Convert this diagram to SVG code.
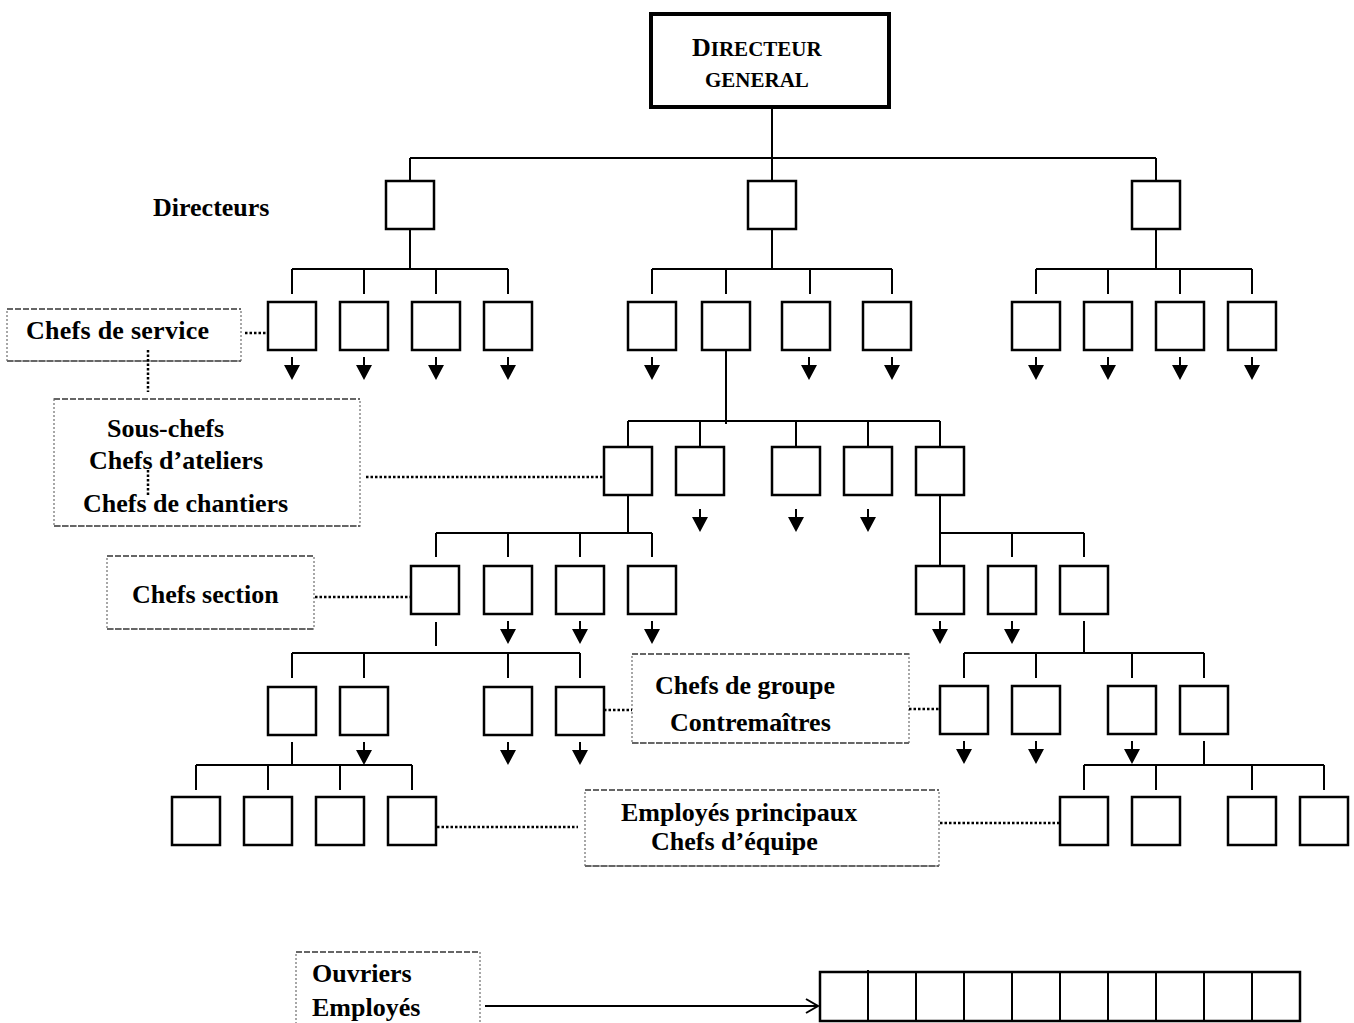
<svg xmlns="http://www.w3.org/2000/svg" xmlns:xlink="http://www.w3.org/1999/xlink" width="1354" height="1023" viewBox="0 0 1354 1023">
<style>
.bx{fill:#fff;stroke:#000;stroke-width:2.5}
.ln{fill:none;stroke:#000;stroke-width:2}
.dot{fill:none;stroke:#000;stroke-width:2.5;stroke-dasharray:2.5 2}
.lbl{fill:none;stroke:#8a8a8a;stroke-width:1.5;stroke-dasharray:2 2}
.lbh{fill:none;stroke:#666;stroke-width:2;stroke-dasharray:6 2}
.t{font-family:"Liberation Serif","Times New Roman",serif;font-weight:bold;font-size:26px;fill:#000}
.sc{font-family:"Liberation Serif","Times New Roman",serif;font-weight:bold;fill:#000}
</style>
<defs>
<g id="arr"><line x1="0" y1="0" x2="0" y2="9" stroke="#000" stroke-width="2"/><polygon points="-8,8 8,8 0,23" fill="#000"/></g>
<marker id="open" markerWidth="16" markerHeight="16" refX="14" refY="8" orient="auto" markerUnits="userSpaceOnUse"><polyline points="2,1 14,8 2,15" fill="none" stroke="#000" stroke-width="2"/></marker>
</defs>
<rect width="1354" height="1023" fill="#fff"/>

<g id="lbl-directeurs"><text class="t" x="153" y="216">Directeurs</text></g>
<g id="lbl-service"><rect class="lbl" x="7" y="309" width="234" height="52"/><path class="lbh" d="M7 309H241M7 361H241"/><text class="t" x="26" y="339" textLength="183">Chefs de service</text></g>
<g id="lbl-souschefs"><rect class="lbl" x="54" y="399" width="306" height="127"/><path class="lbh" d="M54 399H360M54 526H360"/>
<text class="t" x="107" y="437">Sous-chefs</text><text class="t" x="89" y="469">Chefs d’ateliers</text><text class="t" x="83" y="512">Chefs de chantiers</text></g>
<g id="lbl-section"><rect class="lbl" x="107" y="556" width="207" height="73"/><path class="lbh" d="M107 556H314M107 629H314"/><text class="t" x="132" y="603">Chefs section</text></g>
<g id="lbl-groupe"><rect class="lbl" x="632" y="654" width="277" height="89"/><path class="lbh" d="M632 654H909M632 743H909"/><text class="t" x="655" y="694">Chefs de groupe</text><text class="t" x="670" y="731">Contremaîtres</text></g>
<g id="lbl-employes"><rect class="lbl" x="585" y="790" width="354" height="76"/><path class="lbh" d="M585 790H939M585 866H939"/><text class="t" x="621" y="821">Employés principaux</text><text class="t" x="651" y="850">Chefs d’équipe</text></g>
<g id="lbl-ouvriers"><rect class="lbl" x="296" y="952" width="184" height="80"/><path class="lbh" d="M296 952H480"/><text class="t" x="312" y="982">Ouvriers</text><text class="t" x="312" y="1016">Employés</text></g>

<g id="connectors">
<path class="ln" d="M772 108V158M410 158H1156M410 158V181M772 158V181M1156 158V181"/>
<path class="ln" d="M410 229V269M292 269H508M292 269V294M364 269V294M436 269V294M508 269V294"/>
<path class="ln" d="M772 229V269M652 269H892M652 269V294M726 269V294M810 269V294M892 269V294"/>
<path class="ln" d="M1156 229V269M1036 269H1252M1036 269V294M1108 269V294M1180 269V294M1252 269V294"/>
<path class="ln" d="M726 350V424M628 421H940M628 421V446M700 421V446M796 421V446M868 421V446M940 421V446"/>
<path class="ln" d="M628 495V533M436 533H652M436 533V557M508 533V557M580 533V557M652 533V557"/>
<path class="ln" d="M436 622V646M292 653H580M292 653V678M364 653V678M508 653V678M580 653V678"/>
<path class="ln" d="M292 742V765M196 765H412M196 765V790M268 765V790M340 765V790M412 765V790"/>
<path class="ln" d="M940 495V566M940 533H1084M1012 533V557M1084 533V557"/>
<path class="ln" d="M1084 621V653M964 653H1204M964 653V678M1036 653V678M1132 653V678M1204 653V678"/>
<path class="ln" d="M1204 741V765M1084 765H1324M1084 765V790M1156 765V790M1252 765V790M1324 765V790"/>
<use xlink:href="#arr" x="292" y="357"/><use xlink:href="#arr" x="364" y="357"/><use xlink:href="#arr" x="436" y="357"/><use xlink:href="#arr" x="508" y="357"/>
<use xlink:href="#arr" x="652" y="357"/><use xlink:href="#arr" x="809" y="357"/><use xlink:href="#arr" x="892" y="357"/>
<use xlink:href="#arr" x="1036" y="357"/><use xlink:href="#arr" x="1108" y="357"/><use xlink:href="#arr" x="1180" y="357"/><use xlink:href="#arr" x="1252" y="357"/>
<use xlink:href="#arr" x="700" y="509"/><use xlink:href="#arr" x="796" y="509"/><use xlink:href="#arr" x="868" y="509"/>
<use xlink:href="#arr" x="508" y="621"/><use xlink:href="#arr" x="580" y="621"/><use xlink:href="#arr" x="652" y="621"/>
<use xlink:href="#arr" x="940" y="621"/><use xlink:href="#arr" x="1012" y="621"/>
<use xlink:href="#arr" x="364" y="742"/><use xlink:href="#arr" x="508" y="742"/><use xlink:href="#arr" x="580" y="742"/>
<use xlink:href="#arr" x="964" y="741"/><use xlink:href="#arr" x="1036" y="741"/><use xlink:href="#arr" x="1132" y="741"/>
<path class="dot" d="M245 333H268M148 350V392M366 477H604M148 470V495M315 597H411M604 710H632M909 709H940M437 827H578M940 823H1060"/>
<line class="ln" x1="485" y1="1006" x2="818" y2="1006" marker-end="url(#open)"/>
</g>

<g id="dg"><rect x="651" y="14" width="238" height="93" fill="#fff" stroke="#000" stroke-width="4"/>
<text class="sc" x="692" y="56"><tspan font-size="26">D</tspan><tspan font-size="21">IRECTEUR</tspan></text>
<text class="sc" x="705" y="87" font-size="21">GENERAL</text></g>

<g id="dir"><rect class="bx" x="386" y="181" width="48" height="48"/><rect class="bx" x="748" y="181" width="48" height="48"/><rect class="bx" x="1132" y="181" width="48" height="48"/></g>

<g id="service">
<rect class="bx" x="268" y="302" width="48" height="48"/><rect class="bx" x="340" y="302" width="48" height="48"/><rect class="bx" x="412" y="302" width="48" height="48"/><rect class="bx" x="484" y="302" width="48" height="48"/>
<rect class="bx" x="628" y="302" width="48" height="48"/><rect class="bx" x="702" y="302" width="48" height="48"/><rect class="bx" x="782" y="302" width="48" height="48"/><rect class="bx" x="863" y="302" width="48" height="48"/>
<rect class="bx" x="1012" y="302" width="48" height="48"/><rect class="bx" x="1084" y="302" width="48" height="48"/><rect class="bx" x="1156" y="302" width="48" height="48"/><rect class="bx" x="1228" y="302" width="48" height="48"/>
</g>

<g id="souschefs">
<rect class="bx" x="604" y="447" width="48" height="48"/><rect class="bx" x="676" y="447" width="48" height="48"/><rect class="bx" x="772" y="447" width="48" height="48"/><rect class="bx" x="844" y="447" width="48" height="48"/><rect class="bx" x="916" y="447" width="48" height="48"/>
</g>

<g id="section">
<rect class="bx" x="411" y="566" width="48" height="48"/><rect class="bx" x="484" y="566" width="48" height="48"/><rect class="bx" x="556" y="566" width="48" height="48"/><rect class="bx" x="628" y="566" width="48" height="48"/>
<rect class="bx" x="916" y="566" width="48" height="48"/><rect class="bx" x="988" y="566" width="48" height="48"/><rect class="bx" x="1060" y="566" width="48" height="48"/>
</g>

<g id="groupe">
<rect class="bx" x="268" y="687" width="48" height="48"/><rect class="bx" x="340" y="687" width="48" height="48"/><rect class="bx" x="484" y="687" width="48" height="48"/><rect class="bx" x="556" y="687" width="48" height="48"/>
<rect class="bx" x="940" y="686" width="48" height="48"/><rect class="bx" x="1012" y="686" width="48" height="48"/><rect class="bx" x="1108" y="686" width="48" height="48"/><rect class="bx" x="1180" y="686" width="48" height="48"/>
</g>

<g id="equipe">
<rect class="bx" x="172" y="797" width="48" height="48"/><rect class="bx" x="244" y="797" width="48" height="48"/><rect class="bx" x="316" y="797" width="48" height="48"/><rect class="bx" x="388" y="797" width="48" height="48"/>
<rect class="bx" x="1060" y="797" width="48" height="48"/><rect class="bx" x="1132" y="797" width="48" height="48"/><rect class="bx" x="1228" y="797" width="48" height="48"/><rect class="bx" x="1300" y="797" width="48" height="48"/>
</g>

<g id="ouvriers-grid">
<rect x="820" y="972" width="480" height="49" fill="#fff" stroke="#000" stroke-width="2.5"/>
<path class="ln" d="M868 970V1021M916 972V1021M964 972V1021M1012 972V1021M1060 972V1021M1108 972V1021M1156 972V1021M1204 972V1021M1252 972V1021"/>
</g>
</svg>
